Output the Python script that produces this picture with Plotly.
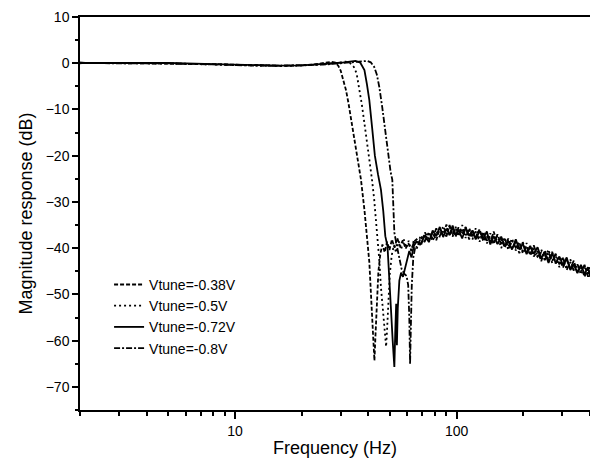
import plotly.graph_objects as go

# ------------------------------
# Stopband (shared frequency grid, Hz)
stop_freq = [66, 69, 72, 75, 78, 81, 84, 87, 90, 93, 96, 99, 102, 106, 110, 114, 118, 122, 127, 132,
             137, 142, 147, 153, 159, 165, 171, 178, 185, 192, 199, 207, 215, 223, 232, 241, 250, 260, 270, 280,
             291, 302, 314, 326, 338, 351, 364, 378, 392, 400]

# ------------------------------
# Vtune = -0.38 V (dashed)
f_038 = [2, 3, 5, 8, 12, 16, 20, 23, 25.5, 27.2, 28.5, 29.3, 30, 31, 31.7, 32.5, 33.3, 34.4, 35.4, 37,
         38.4, 39.5, 40.4, 41.1, 41.7, 42.2, 42.6, 43.1, 43.7, 44.4, 45.3, 46.3, 47.4, 48.6, 49.8, 51.1, 52.5,
         54, 55.6, 57.2, 58.9, 60.6, 62.5, 64.2]
db_038 = [0.1, 0.05, 0.0, -0.2, -0.4, -0.55, -0.45, -0.25, 0.1, 0.3, 0.1, -0.6, -1.6, -4.0, -5.8, -8.5, -11.6,
          -15.2, -18.8, -25.0, -31.7, -37.5, -43.0, -50.0, -56.0, -61.0, -64.3, -58.5, -51.0, -45.0, -41.2, -39.2,
          -40.9, -38.6, -40.4, -38.1, -39.9, -37.8, -39.6, -38.3, -40.1, -38.9, -40.5, -38.6]
stop_038 = [-38.1, -39.5, -36.6, -38.1, -36.7, -38.3, -35.7, -37.3, -34.9, -37.2, -35.7, -37.5, -35.5, -37.0,
            -35.4, -38.1, -36.2, -37.6, -35.9, -38.5, -37.2, -38.7, -36.4, -39.0, -37.9, -39.9, -37.9, -40.0,
            -38.7, -41.1, -38.7, -40.8, -39.5, -41.8, -40.6, -42.8, -40.5, -42.6, -40.8, -43.3, -42.1, -44.2,
            -42.4, -44.4, -42.7, -45.3, -43.8, -46.2, -44.2, -45.9]

# ------------------------------
# Vtune = -0.5 V (dotted)
f_050 = [2, 3, 5, 8, 12, 16, 20, 24, 27.5, 30, 31.5, 33, 34.4, 35.4, 36.4, 37.4, 38.4, 39.5, 40.4, 41.5,
         42.5, 43.7, 44.8, 45.6, 46.4, 47.2, 47.7, 48.1, 48.6, 49.2, 50, 51, 52.2, 53.4, 54.8, 56.2, 57.7,
         59.2, 60.8, 62.5, 64.2]
db_050 = [0.0, 0.1, -0.05, -0.25, -0.5, -0.6, -0.5, -0.3, -0.05, 0.2, 0.35, 0.1, -0.8, -2.2, -5.5, -9.0,
          -13.0, -17.0, -20.5, -25.0, -29.5, -36.0, -42.5, -48.5, -52.5, -56.0, -59.0, -61.3, -57.5, -51.0,
          -45.5, -41.5, -39.3, -41.0, -38.5, -40.3, -38.0, -39.9, -38.4, -40.6, -38.2]
stop_050 = [-39.8, -37.2, -38.8, -36.5, -38.5, -36.3, -37.6, -35.2, -36.9, -35.3, -37.5, -35.6, -37.5, -35.0,
            -37.2, -35.8, -38.1, -35.7, -38.0, -36.8, -39.0, -36.8, -38.6, -37.3, -40.0, -38.0, -39.8, -37.9,
            -40.5, -39.1, -40.7, -38.9, -41.6, -40.0, -41.9, -40.3, -42.1, -40.3, -43.2, -41.7, -44.1, -42.1,
            -44.1, -42.4, -44.8, -43.6, -45.7, -43.8, -45.9, -44.0]

# ------------------------------
# Vtune = -0.72 V (solid)
f_072 = [2, 3, 5, 8, 12, 16, 20, 25, 30, 33, 35, 36.8, 38.4, 39.4, 40.4, 41.6, 42.8, 44.2, 45.6, 46.7,
         47.7, 48.8, 49.6, 50.5, 51.5, 52.4, 52.9, 53.4, 53.8, 54.3, 55.2, 56.2, 57.3, 58.5, 59.8, 61.2, 62.6, 64.2]
db_072 = [0.05, 0.0, 0.05, -0.2, -0.45, -0.5, -0.45, -0.2, 0.1, 0.35, 0.5, 0.1, -1.5, -4.5, -8.0, -14.0,
          -20.0, -24.0, -27.4, -32.0, -37.4, -39.6, -45.0, -52.5, -60.0, -65.7, -58.0, -52.0, -61.0, -53.0,
          -47.0, -45.3, -46.2, -44.4, -42.5, -40.6, -42.0, -39.5]
stop_072 = [-38.6, -39.0, -37.2, -38.7, -36.2, -37.4, -35.4, -37.6, -35.8, -37.1, -35.1, -37.2, -36.0, -37.9,
            -35.6, -37.3, -36.2, -38.1, -36.3, -37.9, -36.4, -39.2, -37.4, -39.1, -37.5, -39.5, -38.5, -40.3,
            -38.1, -40.3, -39.0, -41.3, -39.7, -41.2, -39.8, -42.2, -40.9, -43.2, -41.1, -43.2, -41.8, -43.6,
            -42.0, -44.7, -43.5, -45.4, -43.6, -45.6, -44.1, -46.2]

# ------------------------------
# Vtune = -0.8 V (dash-dot)
f_080 = [2, 3, 5, 8, 12, 16, 20, 25, 30, 34, 37, 39.5, 41, 42.5, 43.7, 44.8, 46.2, 47.5, 48.8, 49.5, 50.4,
         51.3, 51.9, 52.4, 53.5, 55, 56.5, 58, 59.5, 60.5, 61.2, 61.7, 62.2, 62.8, 63.8, 65]
db_080 = [0.1, -0.05, 0.0, -0.3, -0.5, -0.55, -0.5, -0.3, 0.0, 0.2, 0.4, 0.5, 0.2, -0.8, -2.5, -5.1, -9.5,
          -14.0, -18.8, -21.6, -23.5, -25.2, -31.0, -36.6, -39.0, -42.0, -44.5, -45.5, -46.0, -48.0, -55.0,
          -65.0, -57.0, -48.0, -42.0, -40.0]
stop_080 = [-40.2, -37.7, -38.4, -36.6, -37.9, -35.7, -37.3, -36.1, -37.5, -35.0, -37.1, -35.4, -37.0, -35.8,
            -37.8, -35.7, -37.4, -36.4, -38.6, -36.5, -38.4, -37.4, -39.1, -37.0, -39.1, -37.8, -40.3, -38.4,
            -39.9, -38.7, -41.1, -39.6, -41.3, -39.4, -41.8, -40.9, -42.6, -40.9, -42.7, -41.2, -43.5, -42.0,
            -44.7, -43.0, -44.8, -43.5, -45.0, -43.6, -46.2, -44.6]

series = [
    ("Vtune=-0.38V", f_038, db_038, stop_038, "4px,2px"),
    ("Vtune=-0.5V", f_050, db_050, stop_050, "2px,3px"),
    ("Vtune=-0.72V", f_072, db_072, stop_072, "solid"),
    ("Vtune=-0.8V", f_080, db_080, stop_080, "6px,2px,2px,2px"),
]

minor_x = [2, 3, 4, 5, 6, 7, 8, 9, 20, 30, 40, 50, 60, 70, 80, 90, 200, 300, 400]

fig = go.Figure()
for name, f, db, stop, dash in series:
    fig.add_trace(go.Scatter(
        x=f + stop_freq,
        y=db + stop,
        mode="lines",
        name=name,
        line=dict(color="black", width=1.8, dash=dash),
    ))

font_family = "Liberation Sans, Arial, sans-serif"

fig.update_layout(
    width=590, height=461,
    margin=dict(l=80, r=0, t=17, b=51),
    plot_bgcolor="white",
    paper_bgcolor="white",
    font=dict(family=font_family, color="black", size=14),
    showlegend=True,
    legend=dict(
        x=0.057, y=0.359, xanchor="left", yanchor="top",
        bgcolor="rgba(0,0,0,0)", font=dict(size=14, family=font_family),
    ),
    xaxis=dict(
        type="log",
        range=[0.30103, 2.60206],
        tickvals=[10, 100],
        ticktext=["10", "100"],
        ticks="outside", ticklen=7, tickwidth=1.5, tickcolor="black",
        minor=dict(tickvals=minor_x, ticks="outside", ticklen=4, tickwidth=1.5, tickcolor="black", showgrid=False),
        showline=True, linecolor="black", linewidth=1.5, mirror=True,
        showgrid=False, zeroline=False,
        tickfont=dict(size=14),
        title=dict(text="Frequency (Hz)", font=dict(size=18), standoff=4),
    ),
    yaxis=dict(
        range=[-75, 10],
        tick0=0, dtick=10,
        ticks="outside", ticklen=6, tickwidth=1.5, tickcolor="black",
        minor=dict(dtick=5, ticks="outside", ticklen=3, tickwidth=1.5, tickcolor="black", showgrid=False),
        showline=True, linecolor="black", linewidth=1.5, mirror=False,
        showgrid=False, zeroline=False,
        tickfont=dict(size=14),
        title=dict(text="Magnitude response (dB)", font=dict(size=18), standoff=8),
    ),
)

# page body has an 8px default margin; drop it so the figure sits at the window corner
fig.write_html(
    "out.html",
    config={"displayModeBar": False},
    post_script="document.body.style.margin='0px';document.body.style.overflow='hidden';",
)
